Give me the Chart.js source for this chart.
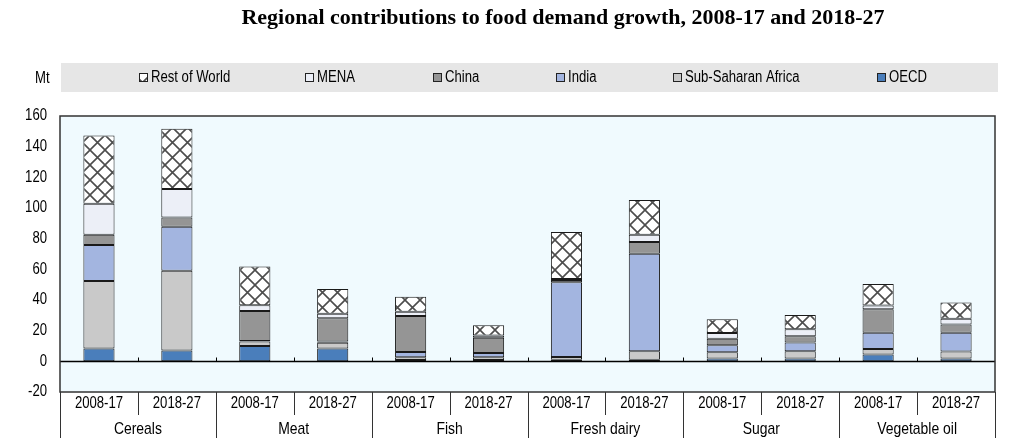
<!DOCTYPE html>
<html>
<head>
<meta charset="utf-8">
<script src="https://cdn.jsdelivr.net/npm/chart.js@4.4.1/dist/chart.umd.min.js"></script>
<style>
  html, body { margin: 0; padding: 0; background: #fff; }
  #wrap { width: 1024px; height: 446px; position: relative; }
</style>
</head>
<body>
<div id="wrap"><canvas id="grafico"></canvas></div>
<script>
// datos (Mt)
const periodos = ['2008-17', '2018-27'];
const grupos = ['Cereals', 'Meat', 'Fish', 'Fresh dairy', 'Sugar', 'Vegetable oil'];
const etiquetas = [];
grupos.forEach(g => periodos.forEach(p => etiquetas.push(p)));

const oecd   = [8.3, 7.0, 10.0, 8.3, 0.8, 0.8, 1.0, 1.0, 1.8, 1.8, 4.4, 1.8];
const ssa    = [44.1, 52.0, 3.0, 3.8, 1.8, 1.8, 1.8, 5.6, 4.1, 4.8, 3.7, 4.6];
const india  = [23.4, 28.7, 0.3, 0.8, 3.5, 2.9, 48.7, 63.5, 4.6, 5.7, 10.5, 12.2];
const china  = [6.8, 6.1, 19.6, 15.2, 23.5, 9.8, 1.5, 7.7, 4.2, 4.1, 15.4, 5.5];
const mena   = [20.2, 18.6, 3.7, 3.0, 2.8, 1.6, 0.7, 4.8, 3.7, 4.6, 2.4, 3.7];
const resto  = [44.5, 39.3, 25.2, 16.0, 9.7, 6.6, 30.7, 22.6, 9.0, 9.2, 14.0, 10.6];

const ejeY = { min: -20, max: 160, paso: 20 };
const titulo = 'Regional contributions to food demand growth, 2008-17 and 2018-27';
const unidad = 'Mt';

const fuente = "'Liberation Sans', Arial, sans-serif";

// texto estrecho (imita Arial Narrow)
function texto(c, s, x, y, alin, tam) {
  c.save();
  c.translate(x, y);
  c.scale(0.82, 1);
  c.font = tam + 'px ' + fuente;
  c.textAlign = alin;
  c.textBaseline = 'middle';
  c.fillStyle = '#000';
  c.fillText(s, 0, 0);
  c.restore();
}

// trama cruzada para "Rest of World"
function trama() {
  const c = document.createElement('canvas');
  c.width = 15; c.height = 15;
  const x = c.getContext('2d');
  x.fillStyle = '#fff';
  x.fillRect(0, 0, 15, 15);
  x.strokeStyle = '#4d4d4d';
  x.lineWidth = 1.6;
  x.beginPath();
  x.moveTo(-2, -2); x.lineTo(17, 17);
  x.moveTo(17, -2); x.lineTo(-2, 17);
  x.stroke();
  return x.createPattern(c, 'repeat');
}

const ctx = document.getElementById('grafico');

// fondo, marco, eje cero, etiquetas y leyenda
const extras = {
  id: 'extras',
  beforeDraw(chart) {
    const c = chart.ctx, a = chart.chartArea;
    c.save();
    c.fillStyle = '#f0fafe';
    c.fillRect(a.left, a.top, a.right - a.left, a.bottom - a.top);
    c.restore();
  },
  afterDraw(chart) {
    const c = chart.ctx, a = chart.chartArea;
    const x = chart.scales.x, y = chart.scales.y;
    c.save();

    // titulo
    c.fillStyle = '#000';
    c.font = "bold 22px 'Liberation Serif', 'Times New Roman', serif";
    c.textAlign = 'center';
    c.textBaseline = 'middle';
    c.fillText(titulo, 563, 18);

    // banda de leyenda
    c.fillStyle = '#e6e6e6';
    c.fillRect(61, 63, 937, 29);
    texto(c, unidad, 35, 79, 'left', 16);
    const posLeyenda = [139, 305, 433, 556, 673, 877];
    const orden = chart.data.datasets.slice().reverse();
    orden.forEach((ds, i) => {
      const px = posLeyenda[i];
      c.fillStyle = ds.backgroundColor;
      c.fillRect(px, 73, 9, 9);
      c.strokeStyle = '#222';
      c.lineWidth = 1;
      c.strokeRect(px + 0.5, 73.5, 8, 8);
      texto(c, ds.label, px + 12, 78, 'left', 16);
    });

    // etiquetas del eje y
    y.ticks.forEach(t => {
      texto(c, String(t.value), 47, y.getPixelForValue(t.value), 'right', 16);
    });

    // linea de cero y marcas
    const y0 = Math.round(y.getPixelForValue(0)) + 0.5;
    c.strokeStyle = '#000';
    c.lineWidth = 1.5;
    c.beginPath();
    c.moveTo(a.left, y0); c.lineTo(a.right, y0);
    c.stroke();
    const ancho = (a.right - a.left) / etiquetas.length;
    c.lineWidth = 1;
    c.beginPath();
    for (let k = 1; k < etiquetas.length; k++) {
      const px = Math.round(a.left + k * ancho) + 0.5;
      c.moveTo(px, y0); c.lineTo(px, y0 - 4);
    }
    c.stroke();

    // marco del area
    c.strokeStyle = '#333';
    c.lineWidth = 1.5;
    c.strokeRect(a.left, a.top, a.right - a.left, a.bottom - a.top);

    // etiquetas de dos niveles en x
    etiquetas.forEach((t, i) => {
      texto(c, t, x.getPixelForValue(i), a.bottom + 12, 'center', 16);
    });
    grupos.forEach((g, j) => {
      const cx = (x.getPixelForValue(2 * j) + x.getPixelForValue(2 * j + 1)) / 2;
      texto(c, g, cx, a.bottom + 37, 'center', 17);
    });
    c.strokeStyle = '#333';
    c.lineWidth = 1;
    c.beginPath();
    for (let k = 0; k <= etiquetas.length; k++) {
      const px = Math.round(a.left + k * ancho) + 0.5;
      c.moveTo(px, a.bottom);
      c.lineTo(px, a.bottom + (k % 2 === 0 ? 46 : 23));
    }
    c.stroke();
    c.restore();
  }
};

const serie = (label, data, color) => ({
  label, data,
  backgroundColor: color,
  borderColor: '#1a1a1a',
  borderWidth: 1,
  borderSkipped: false,
  barPercentage: 0.8,
  categoryPercentage: 0.5
});

const miGrafico = new Chart(ctx, {
  type: 'bar',
  data: {
    labels: etiquetas,
    datasets: [
      serie('OECD', oecd, '#4a7ebb'),
      serie('Sub-Saharan Africa', ssa, '#c9c9c9'),
      serie('India', india, '#a3b5e0'),
      serie('China', china, '#959595'),
      serie('MENA', mena, '#eceff7'),
      serie('Rest of World', resto, trama())
    ]
  },
  options: {
    responsive: true,
    maintainAspectRatio: false,
    animation: false,
    layout: { padding: { top: 116, right: 29, left: 0, bottom: 0 } },
    plugins: {
      legend: { display: false },
      title: { display: false },
      tooltip: { enabled: false }
    },
    scales: {
      x: {
        stacked: true,
        grid: { display: false },
        border: { display: false },
        ticks: { display: false },
        afterFit(s) { s.height = 54; }
      },
      y: {
        stacked: true,
        min: ejeY.min,
        max: ejeY.max,
        grid: { display: false },
        border: { display: false },
        ticks: { stepSize: ejeY.paso, display: false },
        afterFit(s) { s.width = 60; }
      }
    }
  },
  plugins: [extras]
});
</script>
</body>
</html>
